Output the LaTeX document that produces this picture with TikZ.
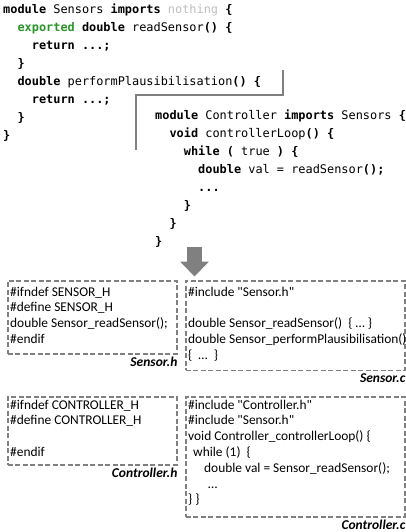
\documentclass[tikz,border=0pt]{standalone}
\usepackage{fontspec}
\setmainfont{Carlito}
\setmonofont{DejaVu Sans Mono}
\usetikzlibrary{positioning, arrows.meta}
\definecolor{framegray}{RGB}{128,128,128}
\definecolor{kwgreen}{RGB}{40,150,40}
\definecolor{nothinggray}{RGB}{190,190,190}
\newcommand{\kw}[1]{\textbf{#1}}
\newcommand{\ind}[1]{\hspace*{\dimexpr 0.602em*#1\relax}}

\begin{document}
\begin{tikzpicture}[x=1pt, y=-1pt,
    code/.style={anchor=north west, inner sep=0pt, align=left,
        font=\ttfamily\fontsize{11.9}{18}\selectfont},
    ctext/.style={inner sep=0pt, align=left, font=\fontsize{13.4}{15.8}\selectfont},
    dashbox/.style={draw=framegray, line width=1.6pt, dash pattern=on 5pt off 2.5pt,
        anchor=north west, inner sep=0pt},
    fname/.style={anchor=north east, inner sep=0pt, yshift=-2.5pt,
        font=\bfseries\itshape\fontsize{13.5}{15}\selectfont},
    frameline/.style={draw=framegray, line width=1.6pt},
    bigarrow/.style={draw=framegray, line width=15pt, -{Triangle[length=15pt, width=28pt]}}]
    \useasboundingbox (0,0) rectangle (406,532);

    % MPS source
    \node[code] (sensors) at (3,3.5) {%
        \kw{module} Sensors \kw{imports} \textcolor{nothinggray}{nothing} \kw{\{}\\
        \ind{2}\textcolor{kwgreen}{\kw{exported}} \kw{double} readSensor\kw{() \{}\\
        \ind{4}\kw{return ...;}\\
        \ind{2}\kw{\}}\\
        \ind{2}\kw{double} performPlausibilisation\kw{() \{}\\
        \ind{4}\kw{return ...;}\\
        \ind{2}\kw{\}}\\
        \kw{\}}};
    \draw[frameline] (283,70) -- (283,95) -- (136,95) -- (136,150);
    \node[code] (controller) at (155,109.5) {%
        \kw{module} Controller \kw{imports} Sensors \kw{\{}\\
        \ind{2}\kw{void} controllerLoop\kw{() \{}\\
        \ind{4}\kw{while (} true \kw{) \{}\\
        \ind{6}\kw{double} val = readSensor\kw{();}\\
        \ind{6}\kw{...}\\
        \ind{4}\kw{\}}\\
        \ind{2}\kw{\}}\\
        \kw{\}}};

    % generation
    \coordinate (arrtop) at (194.5,247);
    \coordinate (arrtip) at (194.5,276.5);
    \draw[bigarrow] (arrtop) -- (arrtip);

    % generated C files
    \node[dashbox, minimum width=169, minimum height=73] (sensorh) at (7,280) {};
    \node[ctext, below right=6.5pt and 3pt of sensorh.north west] (sensorhtxt) {%
        \#ifndef SENSOR\_H\\
        \#define SENSOR\_H\\
        double Sensor\_readSensor();\\
        \#endif};
    \node[fname] (sensorhname) at (sensorh.south east) {Sensor.h};

    \node[dashbox, minimum width=219, minimum height=89.5] (sensorc) at (185,280) {};
    \node[ctext, below right=6.5pt and 3pt of sensorc.north west] (sensorctxt) {%
        \#include \textquotedbl Sensor.h\textquotedbl\\
        \mbox{}\\
        double Sensor\_readSensor()\ \ \{ \ldots\ \}\\
        double Sensor\_performPlausibilisation()\\
        \{ \ \ldots\ \ \}};
    \node[fname] (sensorcname) at (sensorc.south east) {Sensor.c};

    \node[dashbox, minimum width=169, minimum height=68] (controllerh) at (7,396) {};
    \node[ctext, below right=3.5pt and 3pt of controllerh.north west] (controllerhtxt) {%
        \#ifndef CONTROLLER\_H\\
        \#define CONTROLLER\_H\\
        \mbox{}\\
        \#endif};
    \node[fname] (controllerhname) at (controllerh.south east) {Controller.h};

    \node[dashbox, minimum width=219, minimum height=120] (controllerc) at (185,396) {};
    \node[ctext, below right=3.5pt and 3pt of controllerc.north west] (controllerctxt) {%
        \#include \textquotedbl Controller.h\textquotedbl\\
        \#include \textquotedbl Sensor.h\textquotedbl\\
        void Controller\_controllerLoop() \{\\
        \hspace*{5pt}while (1)\ \ \{\\
        \hspace*{16pt}double\ val = Sensor\_readSensor();\\
        \hspace*{20pt}\ldots\\
        \} \}};
    \node[fname] (controllercname) at (controllerc.south east) {Controller.c};
\end{tikzpicture}
\end{document}
